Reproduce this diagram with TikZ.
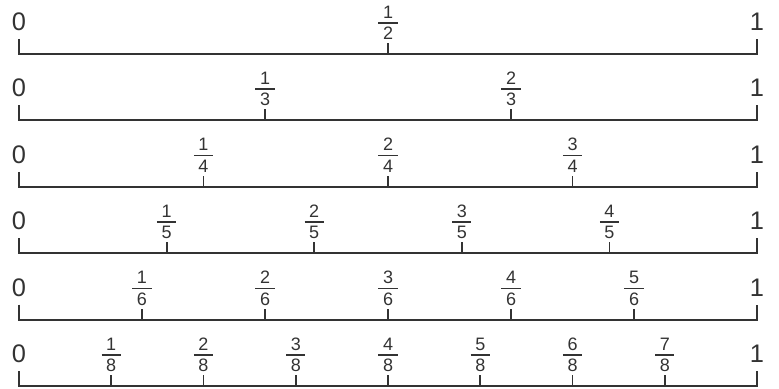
\documentclass[tikz,border=0pt]{standalone}
\usepackage{fontspec}
\setmainfont{Liberation Sans}
\usepackage{xcolor}
\usepackage{tikz}

\definecolor{linegray}{HTML}{333333}
\setlength{\arrayrulewidth}{0.75pt}
\newcommand{\frc}[2]{\renewcommand{\arraystretch}{0}%
  \begin{tabular}{@{\hspace{2.3pt}}c@{\hspace{2.3pt}}}#1\rule[-2pt]{0pt}{0pt}\\\hline\rule{0pt}{8pt}#2\end{tabular}}

\tikzset{
  endlabel/.style={anchor=base, inner sep=0pt, text=linegray, font=\fontsize{12.7}{14}\selectfont},
  fraclabel/.style={anchor=south, inner sep=0pt, text=linegray, font=\fontsize{9}{10}\selectfont}
}

\begin{document}
\begin{tikzpicture}[x=0.5pt, y=-0.5pt, line width=1pt, draw=linegray]
    \useasboundingbox (0,0) rectangle (779,389);

    \foreach \n [count=\k from 0] in {2,3,4,5,6,8} {
        \pgfmathsetmacro{\yb}{54+66.4*\k}
        \pgfmathtruncatemacro{\m}{\n-1}

        % Number line with end ticks
        \coordinate (left\k) at (19,\yb);
        \coordinate (right\k) at (757,\yb);
        \draw (left\k) ++(0,-15) -- (left\k) -- (right\k) -- ++(0,-15);

        % End labels
        \node[endlabel] (zero\k) at (19,\yb-23.5) {0};
        \node[endlabel] (one\k) at (757,\yb-23.5) {1};

        % Fraction ticks and labels
        \foreach \i in {1,...,\m} {
            \coordinate (tick\k-\i) at ({19+738*\i/\n},\yb);
            \node[fraclabel] (frac\k-\i) at ({19+738*\i/\n},\yb-13.3) {\frc{\i}{\n}};
            \draw[line width=0.9pt] (tick\k-\i) -- ++(0,-11);
        }
    }
\end{tikzpicture}
\end{document}
